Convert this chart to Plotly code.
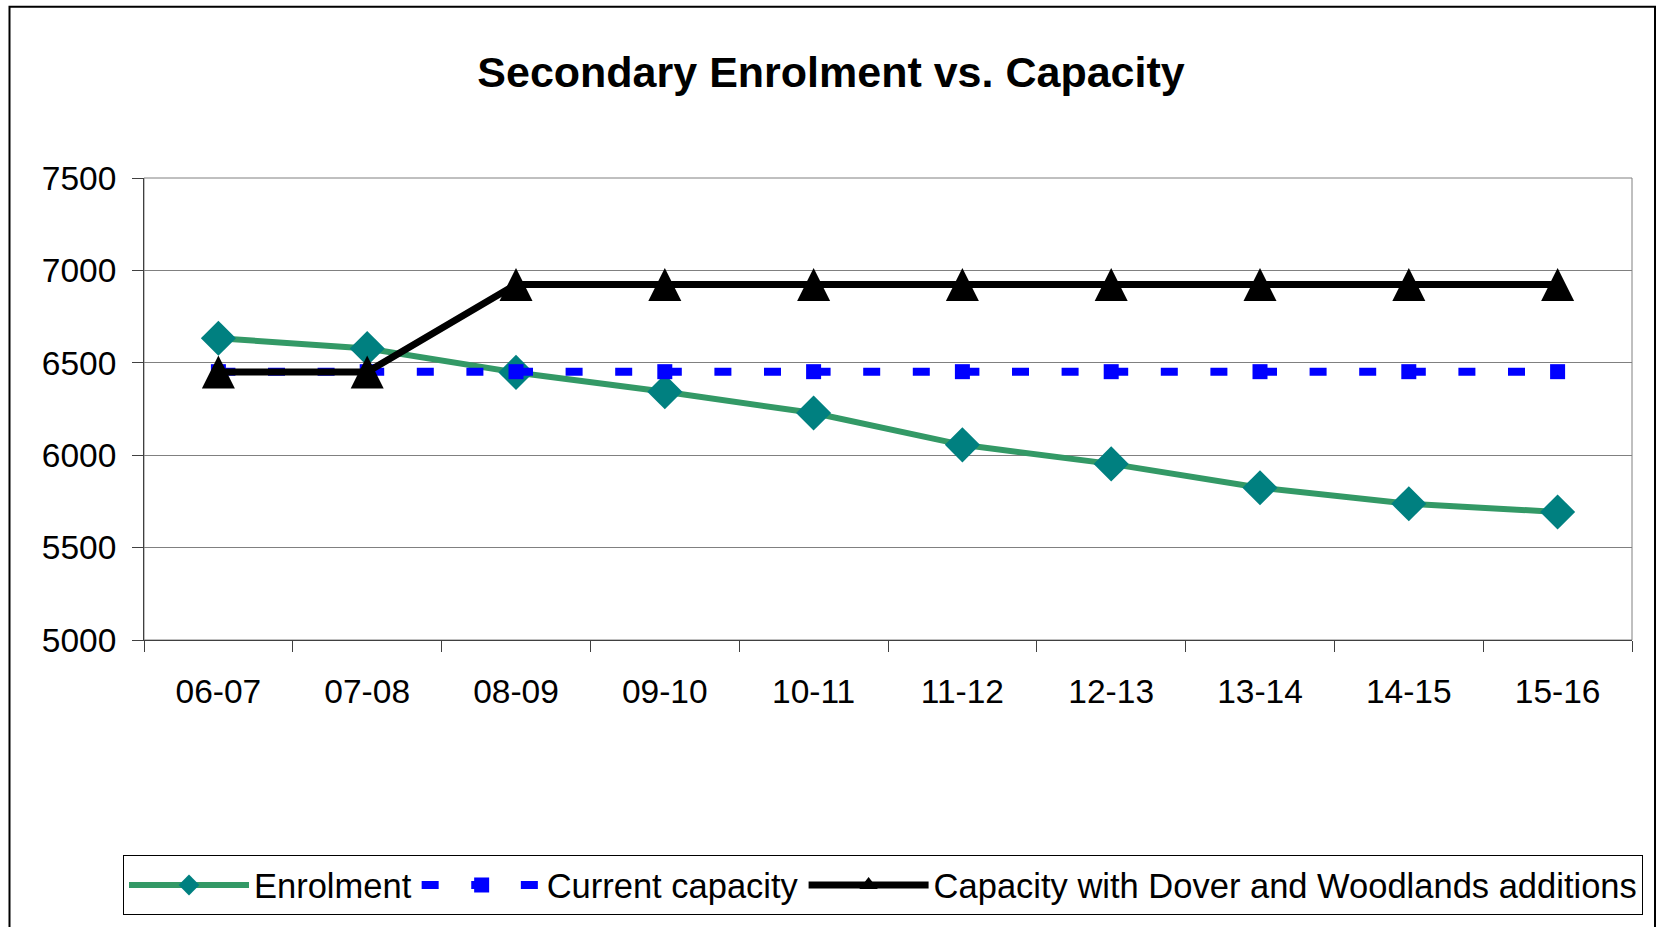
import plotly.graph_objects as go

years = ["06-07", "07-08", "08-09", "09-10", "10-11", "11-12", "12-13", "13-14", "14-15", "15-16"]
enrolment = [6633, 6577, 6448, 6343, 6228, 6056, 5953, 5824, 5737, 5693]
current_capacity = [6452, 6452, 6452, 6452, 6452, 6452, 6452, 6452, 6452, 6452]
capacity_additions = [6450, 6450, 6924, 6924, 6924, 6924, 6924, 6924, 6924, 6924]
y_ticks = [5000, 5500, 6000, 6500, 7000, 7500]

FONT = "Liberation Sans, Arial, sans-serif"
NAME3 = "Capacity with Dover and Woodlands additions"

fig = go.Figure()

fig.add_trace(go.Scatter(
    x=years, y=enrolment, name="Enrolment", mode="lines+markers",
    line=dict(color="#339966", width=6),
    marker=dict(symbol="diamond", size=27, color="#008080"),
))
fig.add_trace(go.Scatter(
    x=years, y=current_capacity, name="Current capacity", mode="lines+markers",
    line=dict(color="#0000FF", width=8, dash="17px,32.6px"),
    marker=dict(symbol="square", size=15, color="#0000FF"),
))
# legend entry for the third series (legend symbols need a centred triangle)
fig.add_trace(go.Scatter(
    x=[None], y=[None], name=NAME3, legendgroup="g3", mode="lines+markers",
    line=dict(color="#000000", width=7),
    marker=dict(symbol="triangle-up", size=16, color="#000000"),
    hoverinfo="skip",
))
fig.add_trace(go.Scatter(
    x=years, y=capacity_additions, name=NAME3, legendgroup="g3", showlegend=False,
    mode="lines+markers",
    line=dict(color="#000000", width=7, backoff=0),
    marker=dict(symbol="arrow-down", size=33, standoff=16.5, angle=180, color="#000000"),
))

L, R, T, B = 144, 1632, 178, 642
W, H = 1658, 927
pw, ph = R - L, B - T

def px_x(p):
    return (p - L) / pw

def px_y(p):
    return (B - p) / ph

fig.update_layout(
    width=W, height=H,
    margin=dict(l=L, r=W - R, t=T, b=H - B, pad=0),
    paper_bgcolor="white", plot_bgcolor="white",
    font=dict(family=FONT, size=33, color="black"),
    title=dict(text="<b>Secondary Enrolment vs. Capacity</b>", x=(831) / W, xanchor="center",
               y=1 - 72 / H, yanchor="middle", font=dict(family=FONT, size=43, color="black")),
    showlegend=True,
    legend=dict(orientation="h", x=px_x(123), xanchor="left", y=px_y(858), yanchor="top",
                bordercolor="black", borderwidth=1, bgcolor="white",
                font=dict(family=FONT, size=34.5, color="black"),
                itemwidth=120, itemsizing="trace", traceorder="normal"),
    xaxis=dict(
        type="category", range=[-0.5, 9.5], tickson="boundaries",
        ticks="outside", ticklen=11, tickwidth=1, tickcolor="#404040",
        showline=True, linecolor="#404040", linewidth=1,
        showgrid=False, zeroline=False,
        tickfont=dict(family=FONT, size=33.5, color="black"),
        ticklabelstandoff=22,
    ),
    yaxis=dict(
        range=[5000, 7500], tickvals=y_ticks,
        ticks="outside", ticklen=11, tickwidth=1, tickcolor="#404040",
        showline=True, linecolor="#404040", linewidth=1,
        showgrid=True, gridcolor="#808080", gridwidth=1, zeroline=False,
        tickfont=dict(family=FONT, size=33.5, color="black"),
        ticklabelstandoff=9,
    ),
    shapes=[
        dict(type="rect", xref="paper", yref="paper", x0=0, x1=1, y0=0, y1=1,
             line=dict(color="#808080", width=1), fillcolor="rgba(0,0,0,0)", layer="below"),
        dict(type="rect", xref="paper", yref="paper",
             x0=px_x(9.5), x1=px_x(1655), y0=px_y(960), y1=px_y(6),
             line=dict(color="black", width=2), fillcolor="rgba(0,0,0,0)", layer="below"),
    ],
)

fig.write_html("out.html", config={"displayModeBar": False},
               post_script="document.body.style.margin='0';")
